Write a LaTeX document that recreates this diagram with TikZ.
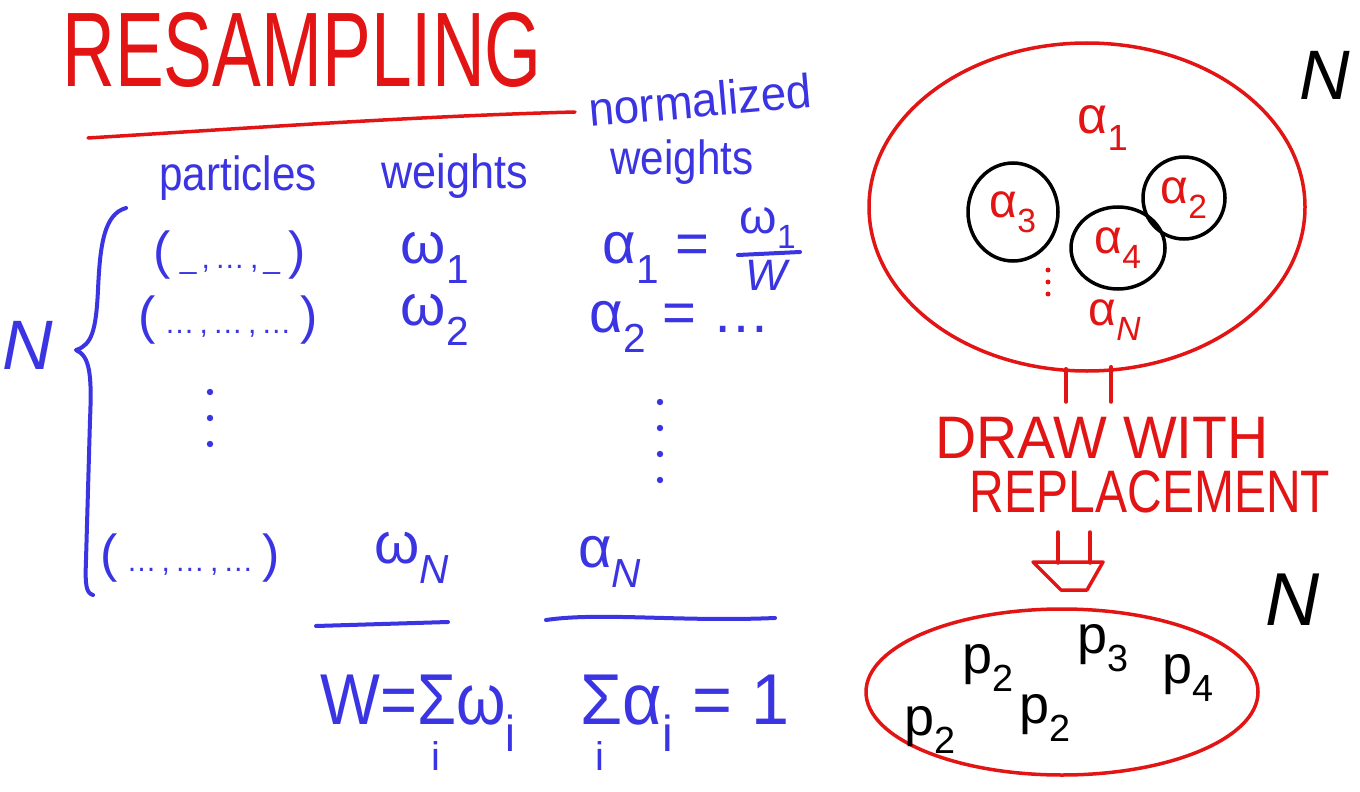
\documentclass[tikz,border=0pt]{standalone}
\usepackage{fontspec}
\setmainfont{Liberation Sans}
\usetikzlibrary{shapes.geometric}
\definecolor{pen}{RGB}{58,52,226}
\definecolor{redpen}{RGB}{226,20,20}
\tikzset{
  bluetxt/.style={text=pen, inner sep=0pt},
  redtxt/.style={text=redpen, inner sep=0pt},
  blacktxt/.style={text=black, inner sep=0pt},
  bluestroke/.style={draw=pen, line width=4pt, line cap=round, line join=round},
  redstroke/.style={draw=redpen, line width=3.5pt, line cap=round, line join=round},
  blackring/.style={ellipse, draw=black, line width=3.5pt},
}
\newcommand{\fs}[1]{\fontsize{#1}{#1}\selectfont}
\newcommand{\sbs}[1]{\textsubscript{#1}}
\newcommand{\tup}[1]{\fs{52}(\,{\fs{30}#1}\,)}
\begin{document}
\begin{tikzpicture}[x=1pt,y=-1pt]
\useasboundingbox (0,0) rectangle (1360,792);
\fill[white] (0,0) rectangle (1360,792);

% title
\node[redtxt, font=\fs{106}] (title) at (302,50) {\scalebox{0.69}[1]{RESAMPLING}};
\draw[redstroke] (88,138) .. controls (250,128) and (420,116) .. (575,112);

% column headers
\node[bluetxt, font=\fs{48}] (hpart) at (238,178) {\scalebox{0.88}[1]{particles}};
\node[bluetxt, font=\fs{48}] (hw) at (455,176) {\scalebox{0.9}[1]{weights}};
\node[bluetxt, font=\fs{48}, rotate=5] (hn1) at (700,100) {\scalebox{0.95}[1]{normalized}};
\node[bluetxt, font=\fs{48}] (hn2) at (682,162) {\scalebox{0.88}[1]{weights}};

% brace and N
\draw[bluestroke] (126,208) .. controls (104,214) and (100,245) .. (98,290)
  .. controls (96,330) and (92,345) .. (76,350)
  .. controls (90,356) and (92,375) .. (90,420)
  -- (86,560) .. controls (85,585) and (86,593) .. (93,595);
\node[bluetxt, font=\fs{70}] (Nleft) at (28,345) {\textit{N}};

% rows
\node[bluetxt] (p1) at (230,255) {\tup{\_\,,\,…\,,\,\_}};
\node[bluetxt] (p2) at (228,320) {\tup{…\,,\,…\,,\,…}};
\node[bluetxt] (pN) at (190,558) {\tup{…\,,\,…\,,\,…}};
\node[bluetxt, font=\fs{58}] (w1) at (435,258) {ω\sbs{1}};
\node[bluetxt, font=\fs{58}] (w2) at (435,320) {ω\sbs{2}};
\node[bluetxt, font=\fs{58}] (wN) at (412,558) {ω\sbs{\textit{N}}};
\node[bluetxt, font=\fs{58}] (a1) at (656,258) {α\sbs{1} =};
\node[bluetxt, font=\fs{48}] (fnum) at (768,228) {ω\sbs{1}};
\node[bluetxt, font=\fs{44}] (fden) at (768,275) {\textit{W}};
\draw[bluestroke] (738,255) -- (800,252);
\node[bluetxt, font=\fs{58}] (a2) at (680,327) {α\sbs{2} = …};
\node[bluetxt, font=\fs{58}] (aN) at (610,562) {α\sbs{\textit{N}}};

% vertical dots
\foreach \y in {392,418,444} \fill[pen] (210,\y) circle (3.2);
\foreach \y in {402,428,454,480} \fill[pen] (660,\y) circle (3.2);

% underlines
\draw[bluestroke] (316,626) -- (448,622);
\draw[bluestroke] (546,620) .. controls (600,612) and (680,622) .. (775,618);

% sums
\node[bluetxt, font=\fs{72}, anchor=base west] (sumW) at (320,724) {\scalebox{0.88}[1]{W=Σω\sbs{i}}};
\node[bluetxt, font=\fs{40}] (iW) at (436,756) {i};
\node[bluetxt, font=\fs{72}, anchor=base west] (suma) at (580,724) {\scalebox{0.95}[1]{Σα\sbs{i} = 1}};
\node[bluetxt, font=\fs{40}] (ia) at (600,756) {i};

% right: population
\node[ellipse, draw=redpen, line width=3.5pt, minimum width=436pt, minimum height=328pt, inner sep=0pt] (pop) at (1087,207) {};
\node[blacktxt, font=\fs{70}] (Ntop) at (1325,75) {\textit{N}};
\node[redtxt, font=\fs{52}] (pa1) at (1103,128) {α\sbs{1}};
\node[blackring, minimum width=90pt, minimum height=98pt] (c3) at (1013,212) {};
\node[redtxt, font=\fs{48}] (l3) at (c3) {α\sbs{3}};
\node[blackring, minimum width=94pt, minimum height=82pt] (c4) at (1118,248) {};
\node[redtxt, font=\fs{48}] (l4) at (c4) {α\sbs{4}};
\node[blackring, minimum width=82pt, minimum height=82pt] (c2) at (1184,198) {};
\node[redtxt, font=\fs{48}] (l2) at (c2) {α\sbs{2}};
\foreach \y in {270,282,294} \fill[redpen] (1048,\y) circle (2.5);
\node[redtxt, font=\fs{48}] (paN) at (1115,320) {α\sbs{\textit{N}}};

% stem from population
\coordinate (s1) at (1066,402);
\coordinate (s2) at (1111,402);
\draw[redstroke] (pop.south -| s1) ++(0,-4) -- (s1);
\draw[redstroke] (pop.south -| s2) ++(0,-6) -- (s2);

% draw with replacement
\node[redtxt, font=\fs{60}] (draw1) at (1102,438) {\scalebox{0.95}[1]{DRAW WITH}};
\node[redtxt, font=\fs{60}] (draw2) at (1150,492) {\scalebox{0.8}[1]{REPLACEMENT}};

% hollow arrow
\draw[redstroke] (1058,532) -- (1058,563);
\draw[redstroke] (1090,532) -- (1090,563);
\draw[redstroke] (1033,562) -- (1103,562) -- (1087,590) -- (1061,590) -- cycle;

% samples
\node[ellipse, draw=redpen, line width=3.5pt, minimum width=392pt, minimum height=166pt, inner sep=0pt] (samp) at (1062,692) {};
\node[blacktxt, font=\fs{75}] (Nbot) at (1293,600) {\textit{N}};
\node[blacktxt, font=\fs{54}] (q1) at (930,730) {p\sbs{2}};
\node[blacktxt, font=\fs{54}] (q2) at (988,668) {p\sbs{2}};
\node[blacktxt, font=\fs{54}] (q3) at (1045,718) {p\sbs{2}};
\node[blacktxt, font=\fs{54}] (q4) at (1103,648) {p\sbs{3}};
\node[blacktxt, font=\fs{54}] (q5) at (1188,678) {p\sbs{4}};
\end{tikzpicture}
\end{document}
